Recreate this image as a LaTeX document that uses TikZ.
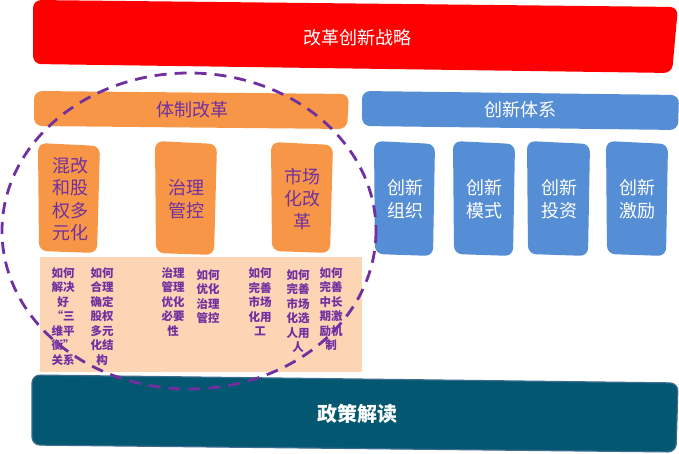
\documentclass[tikz,border=0pt]{standalone}
\usepackage{fontspec}
\setmainfont{Noto Sans CJK SC}
\begin{document}
\begin{tikzpicture}[x=1pt,y=-1pt,
  shape box/.style={rounded corners=8pt},
  bigtxt/.style={font=\fontsize{18}{22.5}\selectfont, align=center, inner sep=0pt},
  smalltxt/.style={font=\bfseries\fontsize{11.5}{14.5}\selectfont, align=center, inner sep=0pt, text=txtpurple},
  ring/.style={draw=txtpurple, line width=2.8pt, dash pattern=on 12pt off 8pt}
]
\definecolor{topred}{RGB}{255,0,0}
\definecolor{orangebox}{RGB}{247,150,70}
\definecolor{bluebox}{RGB}{85,142,213}
\definecolor{peach}{RGB}{252,213,181}
\definecolor{tealbox}{RGB}{4,87,112}
\definecolor{tealedge}{RGB}{60,108,143}
\definecolor{txtpurple}{RGB}{112,48,160}

\useasboundingbox (0,0) rectangle (679,454);

% top red bar
\fill[topred, shape box] (33,0) -- (678,7) -- (672,73) -- (33,64) -- cycle;
\node[bigtxt, text=white] (top) at (357,38) {改革创新战略};

% second row bars
\fill[orangebox, shape box] (34,91) -- (349,94) -- (347,129) -- (34,126) -- cycle;
\node[bigtxt, text=txtpurple] (reform) at (192,110) {体制改革};
\fill[bluebox, shape box] (362,91) -- (679,95) -- (678,130) -- (362,126) -- cycle;
\node[bigtxt, text=white] (innov) at (520,110) {创新体系};

% orange boxes
\fill[orangebox, shape box] (38,143) -- (100,146) -- (97,253) -- (39,251) -- cycle;
\fill[orangebox, shape box] (155,141) -- (217,144) -- (214,255) -- (156,253) -- cycle;
\fill[orangebox, shape box] (271,142) -- (333,145) -- (330,253) -- (272,251) -- cycle;
\node[bigtxt, text=txtpurple] (o1) at (70,199) {混改\\和股\\权多\\元化};
\node[bigtxt, text=txtpurple] (o2) at (186,199) {治理\\管控};
\node[bigtxt, text=txtpurple] (o3) at (302,199) {市场\\化改\\革};

% blue boxes
\fill[bluebox, shape box] (374,141) -- (435,144) -- (433,256) -- (375,254) -- cycle;
\fill[bluebox, shape box] (453,141) -- (515,144) -- (513,256) -- (454,254) -- cycle;
\fill[bluebox, shape box] (527,141) -- (590,144) -- (588,256) -- (528,254) -- cycle;
\fill[bluebox, shape box] (606,141) -- (668,144) -- (666,256) -- (607,254) -- cycle;
\node[bigtxt, text=white] (b1) at (405,199) {创新\\组织};
\node[bigtxt, text=white] (b2) at (484.5,199) {创新\\模式};
\node[bigtxt, text=white] (b3) at (559,199) {创新\\投资};
\node[bigtxt, text=white] (b4) at (637,199) {创新\\激励};

% peach panel
\fill[peach] (40,257) rectangle (362,372);
\node[smalltxt] (p1) at (63,316.5) {如何\\解决\\好\\“三\\维平\\衡”\\关系};
\node[smalltxt] (p2) at (102,316.5) {如何\\合理\\确定\\股权\\多元\\化结\\构};
\node[smalltxt] (p3) at (173,302) {治理\\管理\\优化\\必要\\性};
\node[smalltxt] (p4) at (208,296.75) {如何\\优化\\治理\\管控};
\node[smalltxt] (p5) at (260,302) {如何\\完善\\市场\\化用\\工};
\node[smalltxt] (p6) at (298,311.25) {如何\\完善\\市场\\化选\\人用\\人};
\node[smalltxt] (p7) at (331,309.25) {如何\\完善\\中长\\期激\\励机\\制};

% bottom teal bar
\filldraw[fill=tealbox, draw=tealedge, line width=1.2pt, shape box] (32,375) -- (678,383) -- (676,452) -- (32,445) -- cycle;
\node[font=\bfseries\fontsize{20}{24}\selectfont, text=white, inner sep=0pt] (policy) at (357,414) {政策解读};

% dashed ring
\draw[ring] (189,231) ellipse [x radius=187, y radius=158];
\end{tikzpicture}
\end{document}
